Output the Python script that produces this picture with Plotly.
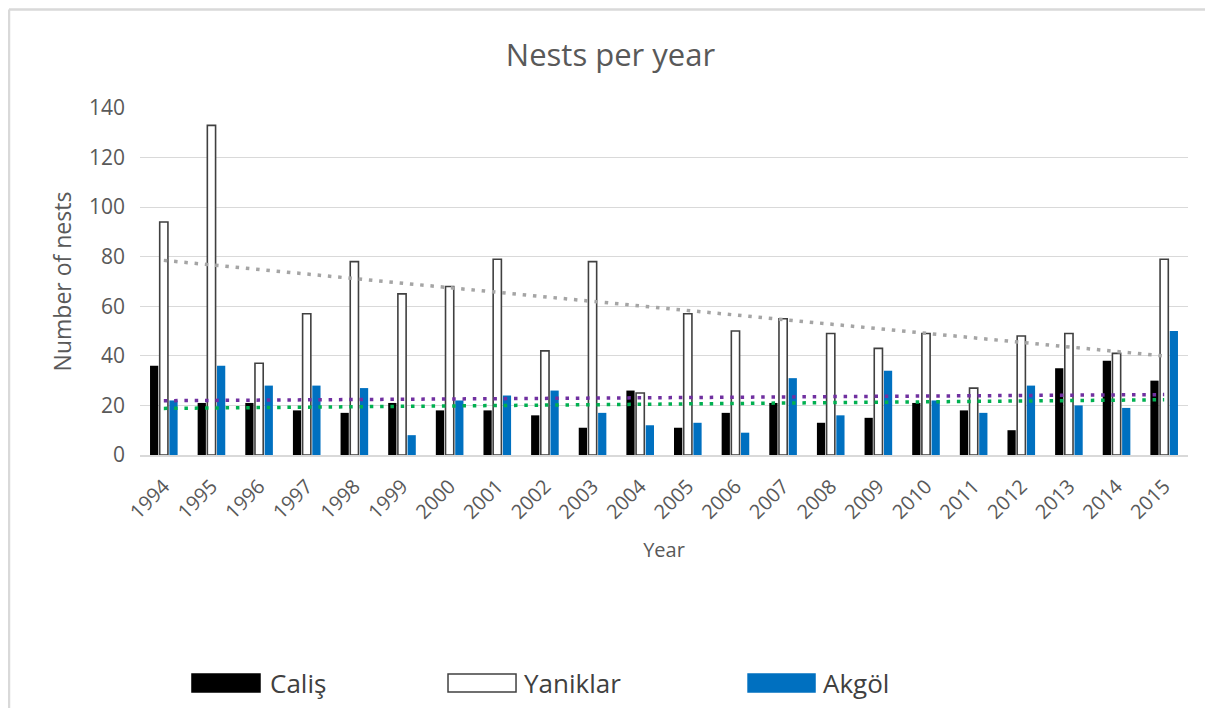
import numpy as np
import plotly.graph_objects as go

# data
years = [str(y) for y in range(1994, 2016)]
calis = [36, 21, 21, 18, 17, 21, 18, 18, 16, 11, 26, 11, 17, 21, 13, 15, 21, 18, 10, 35, 38, 30]
yaniklar = [94, 133, 37, 57, 78, 65, 68, 79, 42, 78, 25, 57, 50, 55, 49, 43, 49, 27, 48, 49, 41, 79]
akgol = [22, 36, 28, 28, 27, 8, 22, 24, 26, 17, 12, 13, 9, 31, 16, 34, 22, 17, 28, 20, 19, 50]

series_names = ["Caliş", "Yaniklar", "Akgöl"]
bar_colors = ["#000000", "#FFFFFF", "#0070C0"]
trend_colors = ["#00B050", "#A5A5A5", "#7030A0"]

GREY_TXT = "#595959"
FONT = "Open Sans, Noto Sans, sans-serif"


def linear_trend(vals):
    # ordinary least squares, like an Excel linear trendline
    idx = np.arange(1, len(vals) + 1)
    slope, intercept = np.polyfit(idx, vals, 1)
    return slope * idx + intercept


fig = go.Figure()

for name, vals, col in zip(series_names, [calis, yaniklar, akgol], bar_colors):
    fig.add_trace(go.Bar(
        x=years, y=vals, name=name,
        marker=dict(color=col,
                    line=dict(color="#404040" if col == "#FFFFFF" else col,
                              width=1.6 if col == "#FFFFFF" else 0)),
        showlegend=False,
    ))

# dotted linear trendlines
for name, vals, col in zip(series_names, [calis, yaniklar, akgol], trend_colors):
    fig.add_trace(go.Scatter(
        x=years, y=linear_trend(vals), mode="lines",
        line=dict(color=col, width=3.5, dash="3.5px,6.8px"),
        name="Linear (" + name + ")",
        showlegend=False, hoverinfo="skip",
    ))

# custom legend with wide swatches like the original
shapes = []
annotations = []
legend_pos = [(0.0496, 0.1145, 0.1221), (0.2939, 0.3588, 0.3645), (0.5802, 0.6441, 0.6498)]
for (x0, x1, xt), name, col in zip(legend_pos, series_names, bar_colors):
    shapes.append(dict(type="rect", xref="paper", yref="paper",
                       x0=x0, x1=x1, y0=-0.683, y1=-0.631,
                       fillcolor=col,
                       line=dict(color="#404040" if col == "#FFFFFF" else col, width=1.5)))
    annotations.append(dict(text=name, xref="paper", yref="paper", x=xt, y=-0.657,
                            xanchor="left", yanchor="middle", showarrow=False,
                            font=dict(size=26, color="#404040", family=FONT)))

# chart frame: only top and left edges are inside the picture
border = dict(color="#D9D9D9", width=2.5)
shapes.append(dict(type="line", xref="paper", yref="paper", layer="below",
                   x0=-0.125, x1=1.1, y0=1.284, y1=1.284, line=border))
shapes.append(dict(type="line", xref="paper", yref="paper", layer="below",
                   x0=-0.125, x1=-0.125, y0=-0.9, y1=1.284, line=border))

fig.update_layout(
    width=1205, height=700,
    margin=dict(l=132, r=25, t=100, b=253),
    paper_bgcolor="white", plot_bgcolor="white",
    font=dict(family=FONT, color=GREY_TXT),
    title=dict(text="Nests per year", x=0.5, xanchor="center", y=1 - 47 / 700, yanchor="middle",
               font=dict(size=31, color=GREY_TXT, family=FONT)),
    barmode="group", bargap=0.39, bargroupgap=0.15,
    shapes=shapes, annotations=annotations,
)

fig.update_xaxes(
    type="category", tickangle=-45,
    tickfont=dict(size=20, color=GREY_TXT),
    showline=True, linecolor="#D9D9D9", linewidth=1.5,
    showgrid=False, ticks="", ticklabelstandoff=10,
    title=dict(text="Year", font=dict(size=20, color=GREY_TXT), standoff=20),
)
fig.update_yaxes(
    range=[0, 140], dtick=20,
    tickfont=dict(size=21, color=GREY_TXT),
    showgrid=True, gridcolor="#D9D9D9", gridwidth=1.2,
    zeroline=False, showline=False, ticklabelstandoff=14,
    title=dict(text="Number of nests", font=dict(size=23, color=GREY_TXT), standoff=10),
)

fig.write_html("out.html")
